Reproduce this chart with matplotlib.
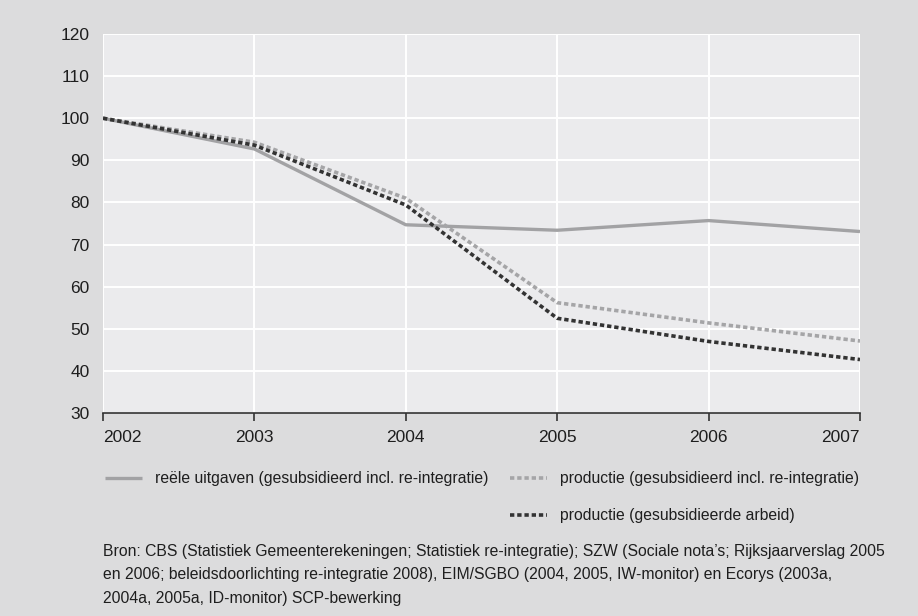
import matplotlib
matplotlib.use("Agg")
import matplotlib.pyplot as plt
from matplotlib.lines import Line2D

plt.rcParams["font.family"] = ["Liberation Sans", "DejaVu Sans"]

years = [2002, 2003, 2004, 2005, 2006, 2007]
uitgaven = [100, 92.7, 74.7, 73.4, 75.7, 73.1]
prod_incl = [100, 94.3, 81.0, 56.2, 51.4, 47.1]
prod_arbeid = [100, 93.6, 79.4, 52.5, 47.0, 42.7]

labels = ["reële uitgaven (gesubsidieerd incl. re-integratie)",
          "productie (gesubsidieerd incl. re-integratie)",
          "productie (gesubsidieerde arbeid)"]
bron = ("Bron: CBS (Statistiek Gemeenterekeningen; Statistiek re-integratie); SZW (Sociale nota’s; Rijksjaarverslag 2005\n"
        "en 2006; beleidsdoorlichting re-integratie 2008), EIM/SGBO (2004, 2005, IW-monitor) en Ecorys (2003a,\n"
        "2004a, 2005a, ID-monitor) SCP-bewerking")

fs = 11.3
fig = plt.figure(figsize=(9.18, 6.16), dpi=100, facecolor="#dcdcdd")
ax = fig.add_axes([0.1122, 0.3295, 0.8246, 0.6153])
ax.set_facecolor("#ebebed")

l1, = ax.plot(years, uitgaven, color="#a2a2a4", lw=2.4, solid_capstyle="butt", zorder=3)
l2, = ax.plot(years, prod_incl, color="#a5a5a7", lw=2.6, dashes=(1.2, 0.8), zorder=3)
l3, = ax.plot(years, prod_arbeid, color="#333333", lw=2.6, dashes=(1.2, 0.8), zorder=4)

ax.set_xlim(2002, 2007)
ax.set_ylim(30, 120)
ax.set_yticks(range(30, 121, 10))
ax.set_xticks(years)
ax.grid(True, color="white", lw=1.4, zorder=1)
ax.set_axisbelow(True)
for s in ["top", "right", "left"]:
    ax.spines[s].set_visible(False)
ax.spines["bottom"].set_color("#333333")
ax.spines["bottom"].set_linewidth(1.2)
ax.spines["bottom"].set_zorder(5)
ax.tick_params(axis="y", length=0, pad=9.5, labelsize=12.5, labelcolor="#1e1e1e")
ax.tick_params(axis="x", length=6, width=1.2, color="#333333", direction="out",
               pad=6.5, labelsize=12.5, labelcolor="#1e1e1e")
ax.get_xticklabels()[0].set_horizontalalignment("left")
ax.get_xticklabels()[-1].set_horizontalalignment("right")

blank = Line2D([], [], color="none")
fig.legend([l1, blank, l2, l3], [labels[0], "", labels[1], labels[2]],
           ncol=2, loc="upper left", bbox_to_anchor=(0.1075, 0.245), borderaxespad=0,
           frameon=False, fontsize=fs, handlelength=2.35, handletextpad=0.85,
           columnspacing=1.35, labelspacing=1.4, labelcolor="#1e1e1e")

fig.text(0.1122, 0.0666, bron, fontsize=fs, color="#1e1e1e", va="center",
         ha="left", linespacing=1.69)

fig.savefig("out.png", dpi=100, facecolor=fig.get_facecolor())
